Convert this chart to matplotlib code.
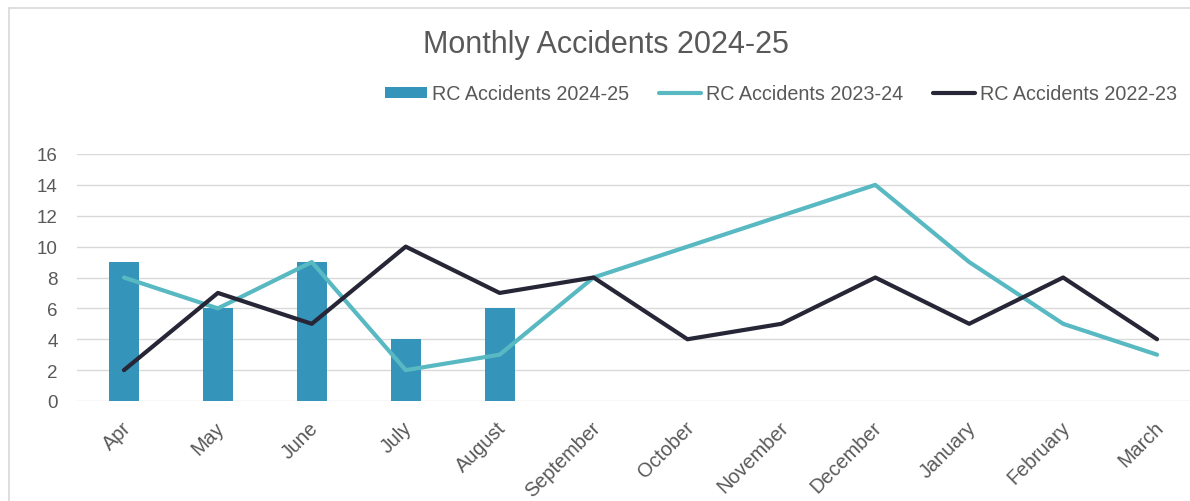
import matplotlib
matplotlib.use("Agg")
import matplotlib.pyplot as plt
from matplotlib.lines import Line2D
from matplotlib.transforms import ScaledTranslation

months = ["Apr", "May", "June", "July", "August", "September", "October",
          "November", "December", "January", "February", "March"]
rc_2024_25 = [9, 6, 9, 4, 6]
rc_2023_24 = [8, 6, 9, 2, 3, 8, 10, 12, 14, 9, 5, 3]
rc_2022_23 = [2, 7, 5, 10, 7, 8, 4, 5, 8, 5, 8, 4]

bar_col = "#3494BA"
teal = "#58B9C2"
dark = "#262636"
txt = "#595959"

plt.rcParams["font.family"] = ["Liberation Sans", "DejaVu Sans"]

fig = plt.figure(figsize=(11.9, 5.02), dpi=100)
W, H = 1190, 502
ax = fig.add_axes([77 / W, 1 - 402 / H, 1127 / W, 247 / H])

x = list(range(len(months)))
bars = ax.bar(x[:len(rc_2024_25)], rc_2024_25, width=0.32, color=bar_col,
              label="RC Accidents 2024-25", zorder=2)
l1, = ax.plot(x, rc_2023_24, color=teal, lw=3, label="RC Accidents 2023-24",
              solid_capstyle="round", zorder=3)
l2, = ax.plot(x, rc_2022_23, color=dark, lw=3, label="RC Accidents 2022-23",
              solid_capstyle="round", zorder=4)

ax.set_xlim(-0.5, len(months) - 0.5)
ax.set_ylim(0, 16)
ax.set_yticks(range(0, 17, 2))
ax.grid(axis="y", color="#D9D9D9", lw=1, zorder=0)
for s in ax.spines.values():
    s.set_visible(False)
ax.tick_params(length=0, colors=txt, labelsize=13.5)
ax.tick_params(axis="y", pad=14)
ax.tick_params(axis="x", pad=12, labelsize=14.3)
ax.set_xticks(x)
ax.set_xticklabels(months, rotation=45, ha="right", rotation_mode="anchor")
shift = ScaledTranslation(-3 / 100, 0, fig.dpi_scale_trans)
for lab in ax.get_xticklabels():
    lab.set_transform(lab.get_transform() + shift)

fig.text(606 / W, 1 - 45 / H, "Monthly Accidents 2024-25", ha="center",
         va="center", fontsize=22, color=txt)
fig.legend([bars, l1, l2], [bars.get_label(), l1.get_label(), l2.get_label()],
           loc="center", bbox_to_anchor=(781 / W, 1 - 95 / H), ncol=3,
           frameon=False, fontsize=14.2, labelcolor=txt, handlelength=2.15,
           handleheight=0.46, handletextpad=0.25, columnspacing=1.5)

# outer chart border
fig.add_artist(Line2D([8.5 / W, 8.5 / W], [0, 1 - 8.5 / H], color="#D9D9D9",
                      lw=1.2, transform=fig.transFigure))
fig.add_artist(Line2D([8.5 / W, 1], [1 - 8.5 / H, 1 - 8.5 / H], color="#D9D9D9",
                      lw=1.2, transform=fig.transFigure))

fig.savefig("out.png", dpi=100)
